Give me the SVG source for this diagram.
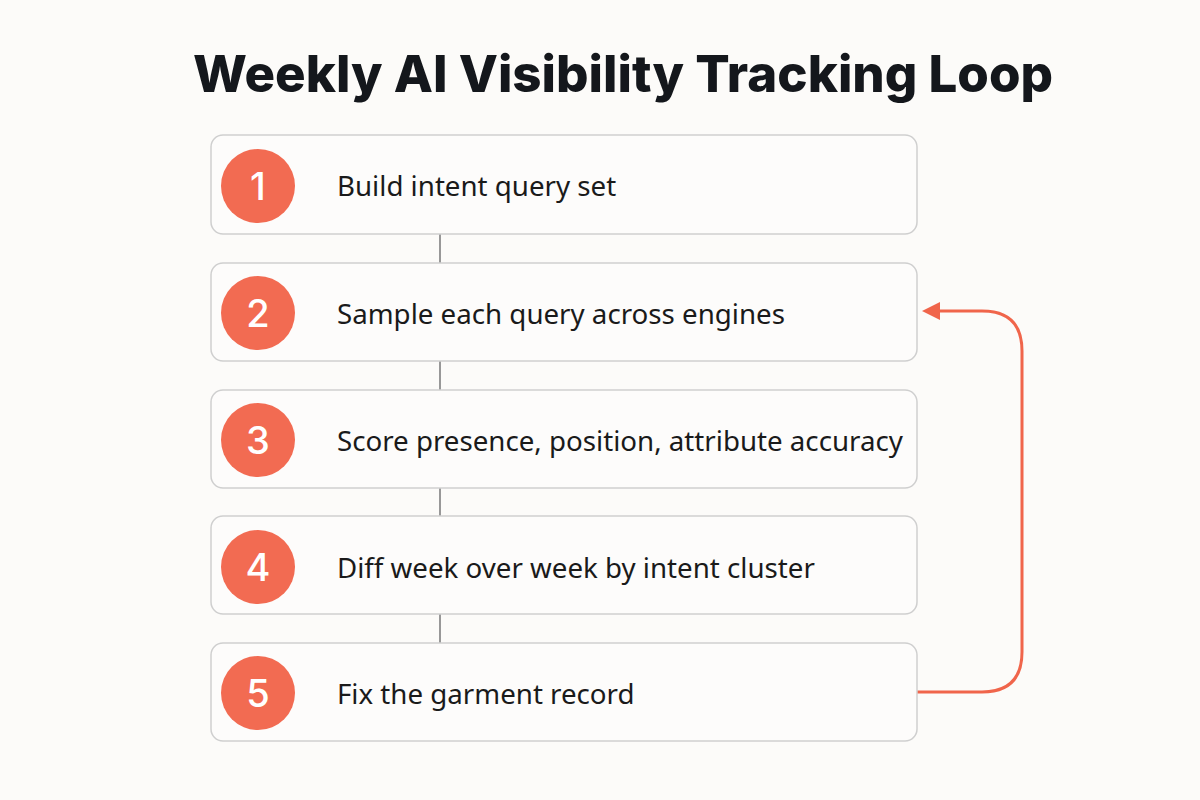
<svg xmlns="http://www.w3.org/2000/svg" width="1200" height="800" viewBox="0 0 1200 800">
<defs>
<style>
.bg{fill:#fcfbf9}
.box{fill:#fdfcfb;stroke:#cfcfcf;stroke-width:1.5}
.num{fill:#f26b52}
.nt{font-family:Inter,"Noto Sans",sans-serif;font-weight:500;font-size:38px;fill:#ffffff;text-anchor:middle}
.lbl{font-family:"Noto Sans","Open Sans",sans-serif;font-size:27.7px;fill:#1a1a1a}
.title{font-family:Inter,"Noto Sans",sans-serif;font-weight:800;font-size:51px;fill:#14171c;text-anchor:middle}
.conn{stroke:#777;stroke-width:1.5;fill:none}
.loop{stroke:#f0654b;stroke-width:3;fill:none}
</style>
</defs>
<rect class="bg" width="1200" height="800"/>
<text class="title" x="623" y="92">Weekly AI Visibility Tracking Loop</text>
<g id="connectors">
<line class="conn" x1="440" y1="234" x2="440" y2="263"/>
<line class="conn" x1="440" y1="361" x2="440" y2="390"/>
<line class="conn" x1="440" y1="488" x2="440" y2="516"/>
<line class="conn" x1="440" y1="614" x2="440" y2="643"/>
<path class="loop" d="M917,692 L982,692 Q1022,692 1022,652 L1022,351 Q1022,311 982,311 L940,311"/>
<path d="M922,311 L940,302 L940,320 Z" fill="#f0654b"/>
</g>
<g id="node1">
<rect class="box" x="211" y="135" width="706" height="99" rx="12"/>
<circle class="num" cx="258" cy="186" r="37"/>
<text class="nt" x="258" y="200">1</text>
<text class="lbl" x="337" y="196">Build intent query set</text>
</g>
<g id="node2">
<rect class="box" x="211" y="263" width="706" height="98" rx="12"/>
<circle class="num" cx="258" cy="313" r="37"/>
<text class="nt" x="258" y="327">2</text>
<text class="lbl" x="337" y="324">Sample each query across engines</text>
</g>
<g id="node3">
<rect class="box" x="211" y="390" width="706" height="98" rx="12"/>
<circle class="num" cx="258" cy="440" r="37"/>
<text class="nt" x="258" y="454">3</text>
<text class="lbl" x="337" y="451">Score presence, position, attribute accuracy</text>
</g>
<g id="node4">
<rect class="box" x="211" y="516" width="706" height="98" rx="12"/>
<circle class="num" cx="258" cy="567" r="37"/>
<text class="nt" x="258" y="581">4</text>
<text class="lbl" x="337" y="578">Diff week over week by intent cluster</text>
</g>
<g id="node5">
<rect class="box" x="211" y="643" width="706" height="98" rx="12"/>
<circle class="num" cx="258" cy="693" r="37"/>
<text class="nt" x="258" y="707">5</text>
<text class="lbl" x="337" y="704">Fix the garment record</text>
</g>
</svg>
